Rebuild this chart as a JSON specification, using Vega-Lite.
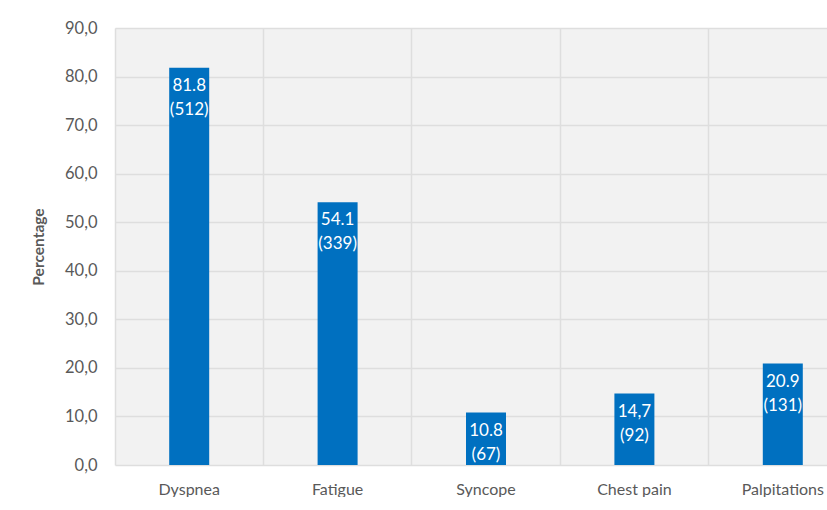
{
  "$schema": "https://vega.github.io/schema/vega-lite/v6.json",
  "width": 742,
  "height": 437,
  "padding": {"left": 31, "top": 20, "right": 0, "bottom": 0},
  "autosize": {"type": "pad"},
  "background": "white",
  "config": {
    "font": "Lato",
    "locale": {"number": {"decimal": ",", "thousands": ".", "grouping": [3], "currency": ["", ""]}},
    "view": {"fill": "#f2f2f2", "stroke": null}
  },
  "data": {
    "values": [
      {"symptom": "Dyspnea", "pct": 81.8, "label": "81.8\n(512)"},
      {"symptom": "Fatigue", "pct": 54.1, "label": "54.1\n(339)"},
      {"symptom": "Syncope", "pct": 10.8, "label": "10.8\n(67)"},
      {"symptom": "Chest pain", "pct": 14.7, "label": "14,7\n(92)"},
      {"symptom": "Palpitations", "pct": 20.9, "label": "20.9\n(131)"}
    ]
  },
  "encoding": {
    "x": {
      "field": "symptom", "type": "nominal", "sort": null,
      "scale": {"paddingInner": 0, "paddingOuter": 0},
      "axis": {
        "title": null, "labelAngle": 0, "labelFontSize": 16, "labelColor": "#595959",
        "labelPadding": 16, "ticks": false, "domain": false,
        "grid": true, "gridColor": "#dedede", "gridWidth": 1.5, "bandPosition": 0
      }
    },
    "y": {
      "field": "pct", "type": "quantitative",
      "scale": {"domain": [0, 90]},
      "axis": {
        "title": "Percentage", "titleFontSize": 15.5, "titleFontWeight": "bold", "titleColor": "#595959",
        "titlePadding": 18,
        "values": [0, 10, 20, 30, 40, 50, 60, 70, 80, 90], "format": ".1f",
        "labelFontSize": 16.5, "labelColor": "#595959", "labelPadding": 18,
        "ticks": false, "domain": false,
        "grid": true, "gridColor": "#dedede", "gridWidth": 1.5
      }
    }
  },
  "layer": [
    {"mark": {"type": "bar", "size": 40, "color": "#0070c0"}},
    {
      "mark": {"type": "text", "baseline": "top", "align": "center", "dy": 10, "color": "white",
               "fontSize": 17, "lineHeight": 24, "lineBreak": "\n"},
      "encoding": {"text": {"field": "label"}}
    }
  ]
}
